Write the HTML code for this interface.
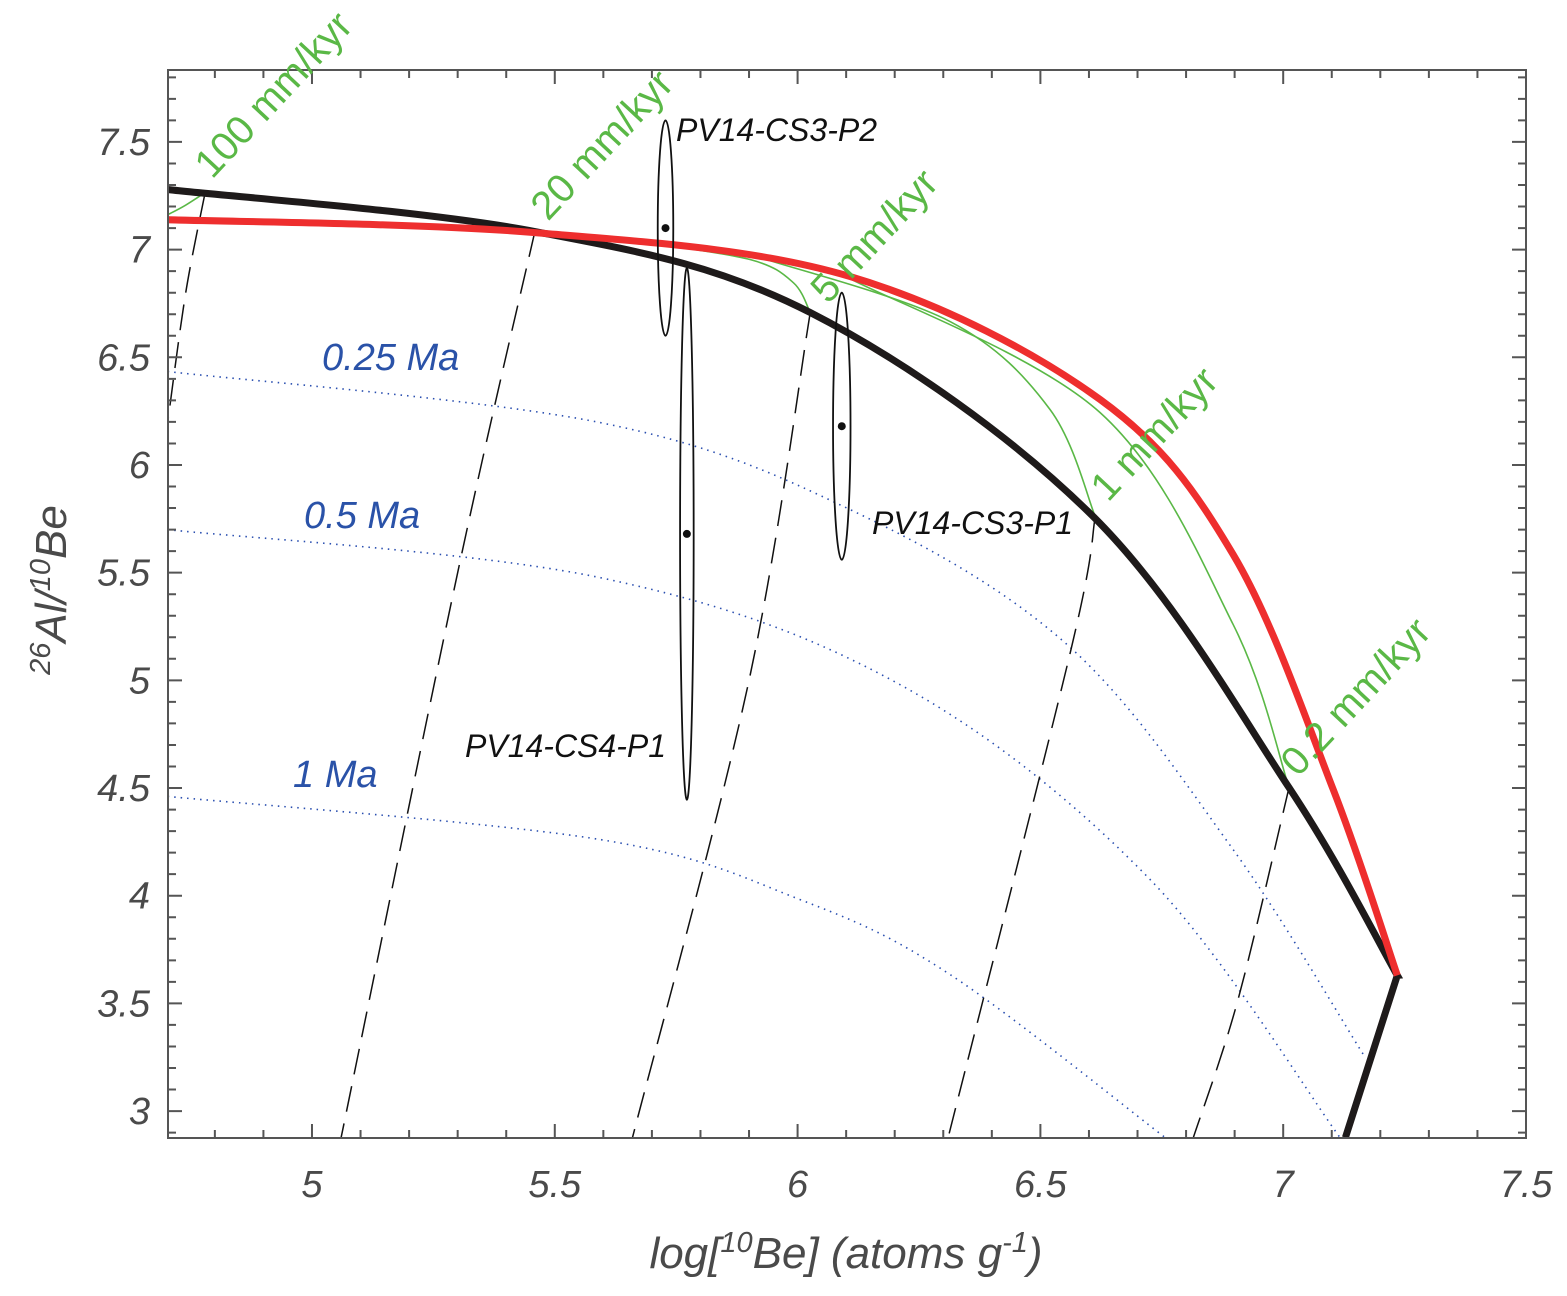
<!DOCTYPE html>
<html><head><meta charset="utf-8"><style>
html,body{margin:0;padding:0;background:#fff;}
svg{display:block;font-family:"Liberation Sans",sans-serif;}
</style></head><body>
<svg id="c" width="1567" height="1296" xmlns="http://www.w3.org/2000/svg"></svg>
<script>
// axis config
const xMin=4.7035, xMax=7.5, yMin=2.875, yMax=7.834;
const xTicks=[5,5.5,6,6.5,7,7.5];
const xTickLabels=["5","5.5","6","6.5","7","7.5"];
const yTicks=[3,3.5,4,4.5,5,5.5,6,6.5,7,7.5];
const yTickLabels=["3","3.5","4","4.5","5","5.5","6","6.5","7","7.5"];
// steady-erosion curve (black)
const steadyX=[4.703,5.459,6.026,6.609,7.012,7.235];
const steadyY=[7.279,7.084,6.708,5.760,4.502,3.630];
const steadyTailX=[7.235,7.128];
const steadyTailY=[3.630,2.877];
// constant exposure (red)
const redX=[4.703,5.459,6.108,6.623,6.897,7.103,7.235];
const redY=[7.139,7.079,6.875,6.304,5.584,4.493,3.630];
// burial isochrons (blue dotted)
const isoNames=["0.25 Ma","0.5 Ma","1 Ma"];
const isoX=[[4.703,5.593,6.108,6.555,6.897,7.165],
            [4.703,5.593,6.211,6.726,7.117],
            [4.703,5.593,6.005,6.314,6.757]];
const isoY=[[6.434,6.197,5.793,5.166,4.214,3.263],
            [5.700,5.477,4.980,4.075,2.877],
            [4.461,4.261,3.982,3.634,2.877]];
// burial paths (black dashed)
const pathX=[[4.78,4.74,4.703],[5.459,5.3,5.06],[6.026,5.9,5.66],[6.613,6.563,6.31],[7.012,6.907,6.815]];
const pathY=[[7.265,6.8,6.2],[7.084,5.5,2.877],[6.708,5.0,2.877],[5.760,5.143,2.877],[4.502,3.518,2.877]];
// transient erosion (green)
const greenX=[[4.703,4.738,4.780],[5.418,5.459],[5.676,5.902,5.991,6.026],
              [5.923,6.314,6.520,6.613],
              [6.108,6.623,6.897,7.012]];
const greenY=[[7.162,7.204,7.265],[7.079,7.084],[7.037,6.954,6.847,6.708],
              [6.963,6.666,6.257,5.760],
              [6.865,6.243,5.259,4.502]];
const greenLabels=["100 mm/kyr","20 mm/kyr","5 mm/kyr","1 mm/kyr","0.2 mm/kyr"];
// samples
const sampleNames=["PV14-CS3-P2","PV14-CS4-P1","PV14-CS3-P1"];
const sampleX=[5.728,5.772,6.091];
const sampleY=[7.10,5.68,6.18];
const sampleYErr=[0.50,1.235,0.62];
const sampleXErr=[0.016,0.014,0.018];

const L=168,R=1526,T=70,B=1138;
const sx=v=>L+(v-xMin)/(xMax-xMin)*(R-L);
const sy=v=>B-(v-yMin)/(yMax-yMin)*(B-T);
const svg=document.getElementById('c');
const NS="http://www.w3.org/2000/svg";
function mk(tag,attrs,parent){const e=document.createElementNS(NS,tag);for(const k in attrs)e.setAttribute(k,attrs[k]);(parent||svg).appendChild(e);return e;}
function line(xs,ys){let d="";for(let i=0;i<xs.length;i++){d+=(i?"L":"M")+sx(xs[i]).toFixed(1)+","+sy(ys[i]).toFixed(1);}return d;}
function smooth(xs,ys){const p=xs.map((x,i)=>[sx(x),sy(ys[i])]);let d="M"+p[0][0]+","+p[0][1];for(let i=0;i<p.length-1;i++){const p0=p[i-1]||p[i],p1=p[i],p2=p[i+1],p3=p[i+2]||p2;d+=`C${p1[0]+(p2[0]-p0[0])/6},${p1[1]+(p2[1]-p0[1])/6} ${p2[0]-(p3[0]-p1[0])/6},${p2[1]-(p3[1]-p1[1])/6} ${p2[0]},${p2[1]}`;}return d;}

const clip=mk('clipPath',{id:'pc'});mk('rect',{x:L,y:T,width:R-L,height:B-T},clip);
const g=mk('g',{'clip-path':'url(#pc)'});


isoX.forEach((xs,i)=>{const e=mk('path',{d:smooth(xs,isoY[i]),fill:'none',stroke:'#2a4fb0','stroke-width':1.6,'stroke-dasharray':'1.5 5'},g);

});
pathX.forEach((xs,i)=>{const e=mk('path',{d:smooth(xs,pathY[i]),fill:'none',stroke:'#111','stroke-width':1.5,'stroke-dasharray':'26 12'},g);

});
greenX.forEach((xs,i)=>{const e=mk('path',{d:smooth(xs,greenY[i]),fill:'none',stroke:'#5ab846','stroke-width':1.6},g);

});
let e=mk('path',{d:smooth(steadyX,steadyY)+line(steadyTailX,steadyTailY).replace('M','L'),fill:'none',stroke:'#1e1a1a','stroke-width':7,'stroke-linejoin':'miter'},g);


e=mk('path',{d:smooth(redX,redY),fill:'none',stroke:'#ee2e2e','stroke-width':7},g);


sampleX.forEach((x,i)=>{
 const ry=sy(sampleY[i]-sampleYErr[i])-sy(sampleY[i]);const rx=sx(x+sampleXErr[i])-sx(x);
 const el=mk('ellipse',{cx:sx(x),cy:sy(sampleY[i]),rx:rx,ry:ry,fill:'none',stroke:'#111','stroke-width':1.8},g);
 
 
 const d=mk('circle',{cx:sx(x),cy:sy(sampleY[i]),r:4,fill:'#111'},g);
 
 
});

e=mk('rect',{x:L,y:T,width:R-L,height:B-T,fill:'none',stroke:'#555','stroke-width':2});


for(let k=Math.ceil(xMin*10);k<=xMax*10;k++){const v=k/10,x=sx(v),maj=k%5==0,len=maj?14:8;
 mk('path',{d:`M${x},${B}v${-len}M${x},${T}v${len}`,stroke:'#555','stroke-width':2});}
for(let k=Math.ceil(yMin*10);k<=yMax*10;k++){const v=k/10,y=sy(v),maj=k%5==0,len=maj?14:8;
 mk('path',{d:`M${L},${y}h${len}M${R},${y}h${-len}`,stroke:'#555','stroke-width':2});}
xTicks.forEach((v,i)=>{const t=mk('text',{x:sx(v),y:1197,'text-anchor':'middle','font-size':38,'font-style':'italic',fill:'#4a4a4a'});t.textContent=xTickLabels[i];
 
 });
yTicks.forEach((v,i)=>{const t=mk('text',{x:150,y:sy(v)+13,'text-anchor':'end','font-size':38,'font-style':'italic',fill:'#4a4a4a'});t.textContent=yTickLabels[i];
 
 });

e=mk('text',{x:846,y:1268,'text-anchor':'middle','font-size':44,'font-style':'italic',fill:'#4a4a4a'});
e.innerHTML='log[<tspan dy="-16" font-size="29">10</tspan><tspan dy="16">Be] (atoms g</tspan><tspan dy="-16" font-size="29">-1</tspan><tspan dy="16">)</tspan>';


e=mk('text',{x:0,y:0,'text-anchor':'middle','font-size':44,'font-style':'italic',fill:'#4a4a4a',transform:'translate(66,590) rotate(-90)'});
e.innerHTML='<tspan dy="-16" font-size="29">26</tspan><tspan dy="16">Al/</tspan><tspan dy="-16" font-size="29">10</tspan><tspan dy="16">Be</tspan>';



const isoLblPos=[[322,370],[304,528],[293,787]];
isoNames.forEach((n,i)=>{const t=mk('text',{x:isoLblPos[i][0],y:isoLblPos[i][1],'font-size':38,'font-style':'italic',fill:'#2a52a8'});t.textContent=n;
 
 });
const gPos=[[212,180],[548,222],[828,305],[1108,503],[1298,778]];
greenLabels.forEach((n,i)=>{const t=mk('text',{x:gPos[i][0],y:gPos[i][1],'font-size':40,fill:'#5ab846',transform:`rotate(-47 ${gPos[i][0]} ${gPos[i][1]})`});t.textContent=n;
 
 });
const sPos=[[676,141],[465,757],[872,534]];
sampleNames.forEach((n,i)=>{const t=mk('text',{x:sPos[i][0],y:sPos[i][1],'font-size':32,'font-style':'italic',fill:'#111'});t.textContent=n;
 
 });
</script>
</body></html>
